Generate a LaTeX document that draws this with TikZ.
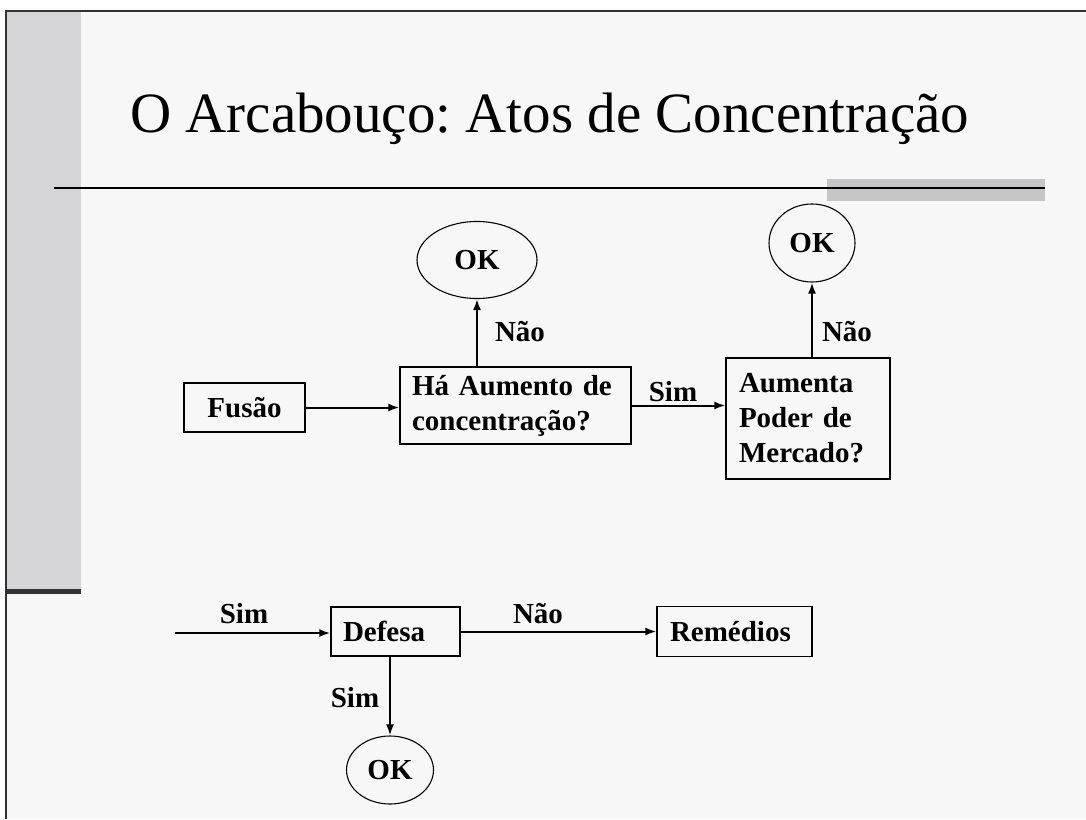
\documentclass[tikz,border=0pt]{standalone}
\usepackage{fontspec}
\setmainfont{Liberation Serif}
\usetikzlibrary{shapes.geometric,arrows.meta}
\definecolor{slidebg}{HTML}{F7F7F7}
\definecolor{stripgray}{HTML}{D5D5D7}
\definecolor{bargray}{HTML}{C6C6C8}
\definecolor{framegray}{HTML}{333333}
\frenchspacing
\tikzset{
  flowbox/.style={draw=black,line width=1.3pt,rectangle,inner xsep=12pt,inner ysep=0pt,
    align=left,font=\bfseries\fontsize{29}{35}\selectfont},
  okoval/.style={draw=black,line width=1.1pt,ellipse,inner sep=0pt,
    font=\bfseries\fontsize{29}{35}\selectfont},
  flowlabel/.style={font=\bfseries\fontsize{29}{35}\selectfont},
  flowarrow/.style={line width=2pt,-{Latex[length=11pt,width=8pt]}}
}
\begin{document}
\begin{tikzpicture}[scale=1.000000,x=1pt,y=-1pt]
\useasboundingbox (0.000000, 0.000000) rectangle (1086.000000, 819.000000);
\fill[color=white] (0.000000, 0.000000) rectangle (1086.000000, 819.000000);
% Drawing slide background
\fill[color=slidebg] (6.000000, 11.000000) rectangle (1086.000000, 819.000000);
\fill[color=stripgray] (6.000000, 11.000000) rectangle (81.000000, 590.000000);
\fill[color=framegray] (6.000000, 589.000000) rectangle (81.000000, 594.000000);
\draw[color=framegray,line width=1.5pt] (6.000000, 819.000000) -- (6.000000, 11.000000) -- (1086.000000, 11.000000);
% Title and rule
\node[anchor=base west,inner sep=0pt,font=\fontsize{57}{60}\selectfont] (title) at (130.000000, 132.000000) {O Arcabouço: Atos de Concentração};
\fill[color=bargray] (827.000000, 179.000000) rectangle (1045.000000, 201.000000);
\draw[color=black,line width=2.5pt] (54.000000, 188.000000) -- (1045.000000, 188.000000);
% Done with background; drawing nodes
\node[flowbox,text width=97pt,minimum height=49pt,align=center] (fusao) at (244.500000, 407.500000) {Fusão};
\node[flowbox,text width=207pt,minimum height=77pt] (aumento) at (515.500000, 405.500000) {Há Aumento de\\concentração?};
\node[flowbox,text width=138pt,inner xsep=13pt,minimum height=121pt] (poder) at (808.000000, 418.500000) {Aumenta\\Poder de\\Mercado?};
\node[okoval,minimum width=120pt,minimum height=77pt] (okA) at (477.000000, 260.000000) {OK};
\node[okoval,minimum width=86pt,minimum height=78pt] (okB) at (812.000000, 243.000000) {OK};
\node[flowbox,text width=105pt,minimum height=49pt] (defesa) at (395.500000, 631.500000) {Defesa};
\node[flowbox,text width=129pt,inner xsep=13pt,minimum height=50pt] (remedios) at (734.500000, 631.500000) {Remédios};
\node[okoval,minimum width=87pt,minimum height=68pt] (okC) at (390.000000, 770.000000) {OK};
\coordinate (entrada) at (175.000000, 633.000000);
% Drawing connectors
\draw[flowarrow] (fusao.east) -- (fusao.east -| aumento.west);
\draw[flowarrow] (aumento.east) -- (aumento.east -| poder.west);
\draw[flowarrow] (okA.south |- aumento.north) -- (okA.south);
\draw[flowarrow] (okB.south |- poder.north) -- (okB.south);
\draw[flowarrow] (entrada) -- (entrada -| defesa.west);
\draw[flowarrow] (defesa.east) -- (remedios.west);
\draw[flowarrow] (okC.north |- defesa.south) -- (okC.north);
% Done with connectors; drawing labels
\node[flowlabel] (naoA) at (520.000000, 332.000000) {Não};
\node[flowlabel] (naoB) at (847.000000, 332.000000) {Não};
\node[flowlabel] (simA) at (673.000000, 392.000000) {Sim};
\node[flowlabel] (simB) at (244.000000, 614.000000) {Sim};
\node[flowlabel] (naoC) at (538.000000, 614.000000) {Não};
\node[flowlabel] (simC) at (355.000000, 698.000000) {Sim};
% Done with labels
\end{tikzpicture}
\end{document}
